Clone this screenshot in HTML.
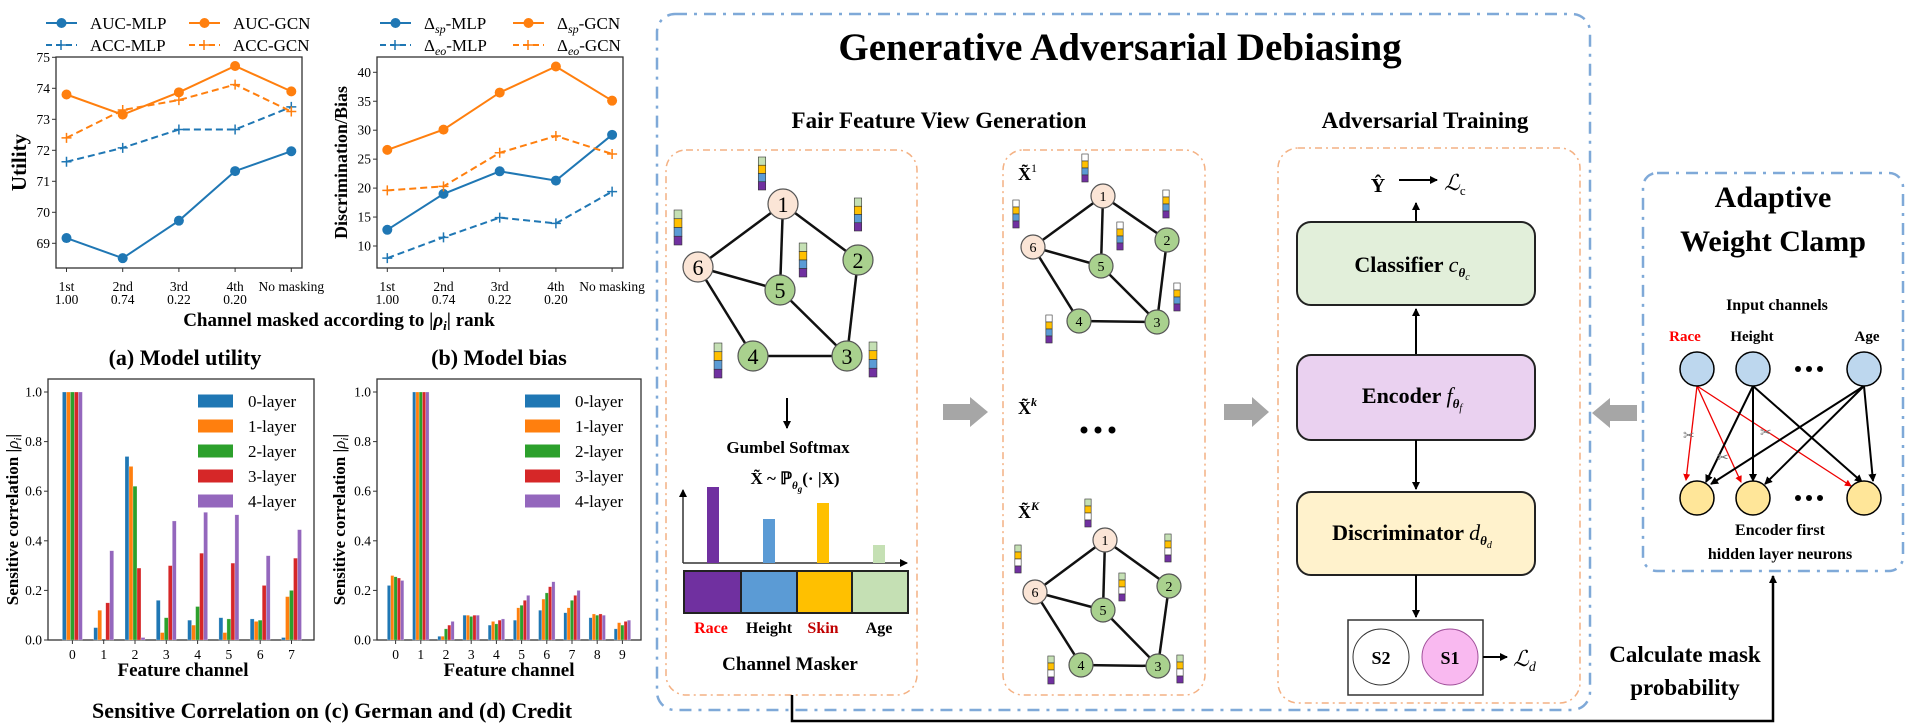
<!DOCTYPE html>
<html><head><meta charset="utf-8">
<style>
html,body{margin:0;padding:0;background:#fff;}
svg{display:block;}
svg text{font-family:"Liberation Serif","DejaVu Serif",serif;}
.b{font-weight:bold;}
</style></head>
<body>
<svg id="root" width="1908" height="727" viewBox="0 0 1908 727" xmlns="http://www.w3.org/2000/svg" font-family="Liberation Serif, serif">
<defs>
<marker id="ah" markerWidth="8" markerHeight="8" refX="7" refY="4" orient="auto" markerUnits="userSpaceOnUse"><path d="M0,0 L8,4 L0,8 z" fill="#000"/></marker>
<marker id="ahr" markerWidth="7" markerHeight="7" refX="6" refY="3.5" orient="auto" markerUnits="userSpaceOnUse"><path d="M0,0 L7,3.5 L0,7 z" fill="#e00"/></marker>
</defs>

<g id="chartA"></g>
<g id="chartB"></g>
<g id="chartC"></g>
<g id="chartD"></g>

<text x="339" y="326" text-anchor="middle" class="b" font-size="19">Channel masked according to |<tspan font-style="italic">ρ<tspan font-size="13" dy="4">i</tspan></tspan><tspan dy="-4">| rank</tspan></text>
<text x="185" y="365" text-anchor="middle" class="b" font-size="22">(a) Model utility</text>
<text x="499" y="365" text-anchor="middle" class="b" font-size="22">(b) Model bias</text>
<text x="332" y="718" text-anchor="middle" class="b" font-size="22">Sensitive Correlation on (c) German and (d) Credit</text>

<g>
<rect x="657" y="14" width="933" height="696" rx="18" fill="none" stroke="#7fa9d8" stroke-width="2.5" stroke-dasharray="12 7 3 7"/>
<text x="1120" y="60" text-anchor="middle" class="b" font-size="39">Generative Adversarial Debiasing</text>
<text x="939" y="128" text-anchor="middle" class="b" font-size="23">Fair Feature View Generation</text>
<text x="1425" y="128" text-anchor="middle" class="b" font-size="23">Adversarial Training</text>
<rect x="666" y="150" width="251" height="545" rx="20" fill="none" stroke="#f4b183" stroke-width="1.5" stroke-dasharray="7 4 2 4"/>
<rect x="1003" y="150" width="202" height="545" rx="20" fill="none" stroke="#f4b183" stroke-width="1.5" stroke-dasharray="7 4 2 4"/>
<rect x="1278" y="148" width="302" height="555" rx="20" fill="none" stroke="#f4b183" stroke-width="1.5" stroke-dasharray="7 4 2 4"/>
<g id="graphs"></g>

<line x1="787" y1="398" x2="787" y2="428" stroke="#000" stroke-width="2" marker-end="url(#ah)"/>
<text x="788" y="453" text-anchor="middle" class="b" font-size="17">Gumbel Softmax</text>
<text x="795" y="484" text-anchor="middle" class="b" font-size="17">X̃ ~ ℙ<tspan font-size="11" dy="5" font-style="italic">θ</tspan><tspan font-size="9" dy="3" font-style="italic">g</tspan><tspan dy="-8">(· |X)</tspan></text>
<line x1="683" y1="563" x2="683" y2="490" stroke="#333" stroke-width="1.5" marker-end="url(#ah)"/>
<line x1="683" y1="563" x2="907" y2="563" stroke="#333" stroke-width="1.5" marker-end="url(#ah)"/>
<rect x="707" y="487" width="12" height="76" fill="#7030a0"/>
<rect x="763" y="519" width="12" height="44" fill="#5b9bd5"/>
<rect x="817" y="503" width="12" height="60" fill="#ffc000"/>
<rect x="873" y="545" width="12" height="18" fill="#c5e0b4"/>
<g stroke="#222" stroke-width="2">
<rect x="684" y="571" width="57" height="42" fill="#7030a0"/>
<rect x="741" y="571" width="56" height="42" fill="#5b9bd5"/>
<rect x="797" y="571" width="55" height="42" fill="#ffc000"/>
<rect x="852" y="571" width="56" height="42" fill="#c5e0b4"/>
</g>
<text x="711" y="633" text-anchor="middle" class="b" font-size="16" fill="#ff0000">Race</text>
<text x="769" y="633" text-anchor="middle" class="b" font-size="16">Height</text>
<text x="823" y="633" text-anchor="middle" class="b" font-size="16" fill="#c00000">Skin</text>
<text x="879" y="633" text-anchor="middle" class="b" font-size="16">Age</text>
<text x="790" y="670" text-anchor="middle" class="b" font-size="19">Channel Masker</text>

<path d="M943,404 L970,404 L970,397 L988,412 L970,427 L970,420 L943,420 z" fill="#a6a6a6"/>
<path d="M1224,404 L1252,404 L1252,397 L1269,412 L1252,427 L1252,420 L1224,420 z" fill="#a6a6a6"/>
<path d="M1637,405 L1610,405 L1610,398 L1592,413 L1610,428 L1610,421 L1637,421 z" fill="#a6a6a6"/>

<text x="1018" y="180" class="b" font-size="18">X̃<tspan font-size="12" dy="-8" font-weight="normal">1</tspan></text>
<text x="1018" y="414" class="b" font-size="18">X̃<tspan font-size="12" dy="-8" font-style="italic">k</tspan></text>
<text x="1018" y="518" class="b" font-size="18">X̃<tspan font-size="12" dy="-8" font-style="italic">K</tspan></text>
<g fill="#000"><circle cx="1084" cy="430" r="3.5"/><circle cx="1098" cy="430" r="3.5"/><circle cx="1112" cy="430" r="3.5"/></g>

<text x="1378" y="192" text-anchor="middle" class="b" font-size="20">Ŷ</text>
<line x1="1399" y1="180" x2="1437" y2="180" stroke="#000" stroke-width="2" marker-end="url(#ah)"/>
<text x="1444" y="190" font-size="22" font-style="italic">ℒ<tspan font-size="13" dy="5" font-style="normal">c</tspan></text>
<line x1="1416" y1="222" x2="1416" y2="203" stroke="#000" stroke-width="2" marker-end="url(#ah)"/>
<rect x="1297" y="222" width="238" height="83" rx="14" fill="#e2efda" stroke="#222" stroke-width="2"/>
<text x="1412" y="272" text-anchor="middle" class="b" font-size="22">Classifier <tspan font-style="italic" font-weight="normal">c</tspan><tspan font-size="13" dy="5" font-style="italic">θ</tspan><tspan font-size="10" dy="3" font-style="italic" font-weight="normal">c</tspan></text>
<line x1="1416" y1="355" x2="1416" y2="309" stroke="#000" stroke-width="2" marker-end="url(#ah)"/>
<rect x="1297" y="355" width="238" height="85" rx="14" fill="#ead1f0" stroke="#222" stroke-width="2"/>
<text x="1412" y="403" text-anchor="middle" class="b" font-size="22">Encoder <tspan font-style="italic" font-weight="normal">f</tspan><tspan font-size="13" dy="5" font-style="italic">θ</tspan><tspan font-size="10" dy="3" font-style="italic" font-weight="normal">f</tspan></text>
<line x1="1416" y1="440" x2="1416" y2="489" stroke="#000" stroke-width="2" marker-end="url(#ah)"/>
<rect x="1297" y="492" width="238" height="83" rx="14" fill="#fff2cc" stroke="#222" stroke-width="2"/>
<text x="1412" y="540" text-anchor="middle" class="b" font-size="22">Discriminator <tspan font-style="italic" font-weight="normal">d</tspan><tspan font-size="13" dy="5" font-style="italic">θ</tspan><tspan font-size="10" dy="3" font-style="italic" font-weight="normal">d</tspan></text>
<line x1="1416" y1="575" x2="1416" y2="617" stroke="#000" stroke-width="2" marker-end="url(#ah)"/>
<rect x="1348" y="620" width="135" height="75" fill="#fff" stroke="#333" stroke-width="1.5"/>
<circle cx="1381" cy="657" r="28" fill="#fff" stroke="#333" stroke-width="1"/>
<text x="1381" y="664" text-anchor="middle" class="b" font-size="18">S2</text>
<circle cx="1450" cy="657" r="28" fill="#f9b9f0" stroke="#a0509a" stroke-width="1"/>
<text x="1450" y="664" text-anchor="middle" class="b" font-size="18">S1</text>
<line x1="1483" y1="657" x2="1507" y2="657" stroke="#000" stroke-width="2" marker-end="url(#ah)"/>
<text x="1513" y="666" font-size="22" font-style="italic">ℒ<tspan font-size="14" dy="5">d</tspan></text>
</g>

<g>
<rect x="1643" y="173" width="260" height="398" rx="14" fill="none" stroke="#7fa9d8" stroke-width="2.5" stroke-dasharray="12 7 3 7"/>
<text x="1773" y="207" text-anchor="middle" class="b" font-size="30">Adaptive</text>
<text x="1773" y="251" text-anchor="middle" class="b" font-size="30">Weight Clamp</text>
<text x="1777" y="310" text-anchor="middle" class="b" font-size="16">Input channels</text>
<text x="1685" y="341" text-anchor="middle" class="b" font-size="15" fill="#ff0000">Race</text>
<text x="1752" y="341" text-anchor="middle" class="b" font-size="15">Height</text>
<text x="1867" y="341" text-anchor="middle" class="b" font-size="15">Age</text>
<g stroke="#e00" stroke-width="1.3">
<line x1="1697" y1="386" x2="1686" y2="480" marker-end="url(#ahr)"/>
<line x1="1697" y1="386" x2="1741" y2="482" marker-end="url(#ahr)"/>
<line x1="1697" y1="386" x2="1851" y2="486" marker-end="url(#ahr)"/>
</g>
<g stroke="#000" stroke-width="2">
<line x1="1753" y1="386" x2="1706" y2="482" marker-end="url(#ah)"/>
<line x1="1753" y1="386" x2="1753" y2="481" marker-end="url(#ah)"/>
<line x1="1753" y1="386" x2="1862" y2="482" marker-end="url(#ah)"/>
<line x1="1864" y1="386" x2="1711" y2="484" marker-end="url(#ah)"/>
<line x1="1864" y1="386" x2="1765" y2="484" marker-end="url(#ah)"/>
<line x1="1864" y1="386" x2="1873" y2="481" marker-end="url(#ah)"/>
</g>
<g font-size="14" fill="#777">
<text x="1683" y="440">✂</text><text x="1717" y="462">✂</text><text x="1760" y="437">✂</text>
</g>
<g fill="#bdd7ee" stroke="#000" stroke-width="1.5">
<circle cx="1697" cy="369" r="17"/><circle cx="1753" cy="369" r="17"/><circle cx="1864" cy="369" r="17"/>
</g>
<g fill="#ffe699" stroke="#000" stroke-width="1.5">
<circle cx="1697" cy="498" r="17"/><circle cx="1753" cy="498" r="17"/><circle cx="1864" cy="498" r="17"/>
</g>
<g fill="#000">
<circle cx="1798" cy="369" r="3"/><circle cx="1809" cy="369" r="3"/><circle cx="1820" cy="369" r="3"/>
<circle cx="1798" cy="498" r="3"/><circle cx="1809" cy="498" r="3"/><circle cx="1820" cy="498" r="3"/>
</g>
<text x="1780" y="535" text-anchor="middle" class="b" font-size="16">Encoder first</text>
<text x="1780" y="559" text-anchor="middle" class="b" font-size="16">hidden layer neurons</text>
</g>
<path d="M792,695 L792,721 L1773,721 L1773,576" fill="none" stroke="#000" stroke-width="2.5" marker-end="url(#ah)"/>
<text x="1685" y="662" text-anchor="middle" class="b" font-size="23">Calculate mask</text>
<text x="1685" y="695" text-anchor="middle" class="b" font-size="23">probability</text>
</svg>

<script>
const NS = "http://www.w3.org/2000/svg";
const rankLabels1 = ["1st","2nd","3rd","4th","No masking"];
const rankLabels2 = ["1.00","0.74","0.22","0.20",""];
const aucMLP = [69.17, 68.52, 69.73, 71.33, 71.97];
const aucGCN = [73.80, 73.15, 73.87, 74.72, 73.90];
const accMLP = [71.63, 72.08, 72.67, 72.67, 73.40];
const accGCN = [72.40, 73.30, 73.62, 74.12, 73.25];
const utilTicks = [69, 70, 71, 72, 73, 74, 75];
const spMLP = [12.8, 19.0, 22.9, 21.3, 29.2];
const spGCN = [26.6, 30.1, 36.5, 41.0, 35.1];
const eoMLP = [7.9, 11.5, 14.9, 13.9, 19.4];
const eoGCN = [19.6, 20.3, 26.1, 29.0, 25.9];
const biasTicks = [10, 15, 20, 25, 30, 35, 40];
const layerNames = ["0-layer","1-layer","2-layer","3-layer","4-layer"];
const germanChannels = ["0","1","2","3","4","5","6","7"];
const german0 = [1, 0.05, 0.74, 0.16, 0.08, 0.09, 0.085, 0.01];
const german1 = [1, 0.12, 0.70, 0.03, 0.06, 0.03, 0.075, 0.175];
const german2 = [1, 0.00, 0.62, 0.09, 0.135, 0.085, 0.08, 0.20];
const german3 = [1, 0.15, 0.29, 0.30, 0.35, 0.31, 0.22, 0.33];
const german4 = [1, 0.36, 0.01, 0.48, 0.515, 0.505, 0.34, 0.445];
const creditChannels = ["0","1","2","3","4","5","6","7","8","9"];
const credit0 = [0.22, 1, 0.015, 0.10, 0.06, 0.08, 0.12, 0.11, 0.09, 0.045];
const credit1 = [0.26, 1, 0.015, 0.10, 0.075, 0.13, 0.165, 0.13, 0.105, 0.07];
const credit2 = [0.255, 1, 0.045, 0.095, 0.065, 0.14, 0.19, 0.16, 0.10, 0.06];
const credit3 = [0.25, 1, 0.06, 0.10, 0.08, 0.16, 0.215, 0.18, 0.105, 0.075];
const credit4 = [0.24, 1, 0.075, 0.10, 0.085, 0.18, 0.235, 0.20, 0.10, 0.08];
const corrTicks = [0, 0.2, 0.4, 0.6, 0.8, 1.0];

const BLUE="#1f77b4", ORANGE="#ff7f0e";
const layerColors = ["#1f77b4","#ff7f0e","#2ca02c","#d62728","#9467bd"];

function mk(parent, tag, attrs, txt) {
  const e = document.createElementNS(NS, tag);
  for (const k in attrs) e.setAttribute(k, attrs[k]);
  if (txt !== undefined) e.textContent = txt;
  parent.appendChild(e);
  return e;
}
function frame(g, x0, y0, x1, y1) {
  const r = mk(g, "rect", {x:x0, y:y0, width:x1-x0, height:y1-y0, fill:"none", stroke:"#333", "stroke-width":1.3});
  
  
}
function yTicks(g, ticks, yf, x0, fmt) {
  ticks.forEach(t => {
    const y = yf(t);
    mk(g, "line", {x1:x0-4, y1:y, x2:x0, y2:y, stroke:"#333", "stroke-width":1});
    const tx = mk(g, "text", {x:x0-6, y:y+4.5, "text-anchor":"end", "font-size":13.5}, fmt(t));
    
    
  });
}

function lineChart(g, cfg) {
  frame(g, cfg.x0, cfg.y0, cfg.x1, cfg.y1);
  yTicks(g, cfg.ticks, cfg.yf, cfg.x0, t => String(t));
  rankLabels1.forEach((l, i) => {
    const x = cfg.xf(i);
    mk(g, "line", {x1:x, y1:cfg.y1, x2:x, y2:cfg.y1+4, stroke:"#333"});
    const t1 = mk(g, "text", {x:x, y:cfg.y1+23, "text-anchor":"middle", "font-size":13.5}, l);
    
    
    const t2 = mk(g, "text", {x:x, y:cfg.y1+36, "text-anchor":"middle", "font-size":13.5}, rankLabels2[i]);
    
    
  });
  cfg.series.forEach(s => {
    const pts = s.data.map((v, i) => cfg.xf(i) + "," + cfg.yf(v)).join(" ");
    const pl = mk(g, "polyline", {points:pts, fill:"none", stroke:s.color, "stroke-width":2, "stroke-dasharray":s.dash ? "7 4" : "none"});
    
    
    s.data.forEach((v, i) => {
      const x = cfg.xf(i), y = cfg.yf(v);
      if (s.dash) {
        const p = mk(g, "path", {d:`M${x-5},${y} L${x+5},${y} M${x},${y-5} L${x},${y+5}`, stroke:s.color, "stroke-width":1.5});
        
        
      } else {
        const c = mk(g, "circle", {cx:x, cy:y, r:5, fill:s.color});
        
        
      }
    });
  });
  cfg.series.forEach((s, k) => {
    const col = k % 2, row = Math.floor(k / 2);
    const lx = cfg.legX[col], ly = 23 + row * 22;
    const lg = mk(g, "g", {});
    
    
    mk(lg, "line", {x1:lx, y1:ly, x2:lx+31, y2:ly, stroke:s.color, "stroke-width":2, "stroke-dasharray":s.dash ? "6 4" : "none"});
    if (s.dash) mk(lg, "path", {d:`M${lx+10},${ly} L${lx+20},${ly} M${lx+15},${ly-5} L${lx+15},${ly+5}`, stroke:s.color, "stroke-width":1.5});
    else mk(lg, "circle", {cx:lx+15.5, cy:ly, r:5, fill:s.color});
    const t = mk(lg, "text", {x:lx+44, y:ly+6, "font-size":17});
    t.innerHTML = s.label;
  });
  const yl = mk(g, "text", {x:0, y:0, transform:`translate(${cfg.ylx},${(cfg.y0+cfg.y1)/2}) rotate(-90)`, "text-anchor":"middle", "font-size":cfg.ylfs, "font-weight":"bold"}, cfg.ylabel);
  
  
}

lineChart(document.getElementById("chartA"), {x0:56, y0:57, x1:302, y1:268,
  xf:i => 66.5 + 56.2*i, yf:v => 57.3 + (75 - v)*31,
  ticks:utilTicks, ylabel:"Utility", ylx:26, ylfs:21, legX:[46, 189],
  series:[
    {name:"auc-mlp", data:aucMLP, color:BLUE, dash:false, label:"AUC-MLP"},
    {name:"auc-gcn", data:aucGCN, color:ORANGE, dash:false, label:"AUC-GCN"},
    {name:"acc-mlp", data:accMLP, color:BLUE, dash:true, label:"ACC-MLP"},
    {name:"acc-gcn", data:accGCN, color:ORANGE, dash:true, label:"ACC-GCN"}]});
lineChart(document.getElementById("chartB"), {x0:377, y0:57, x1:623, y1:268,
  xf:i => 387.3 + 56.2*i, yf:v => 72.3 + (40 - v)*5.79,
  ticks:biasTicks, ylabel:"Discrimination/Bias", ylx:347, ylfs:18, legX:[380, 513],
  series:[
    {name:"sp-mlp", data:spMLP, color:BLUE, dash:false, label:'Δ<tspan font-style="italic" font-size="12" dy="4">sp</tspan><tspan dy="-4">-MLP</tspan>'},
    {name:"sp-gcn", data:spGCN, color:ORANGE, dash:false, label:'Δ<tspan font-style="italic" font-size="12" dy="4">sp</tspan><tspan dy="-4">-GCN</tspan>'},
    {name:"eo-mlp", data:eoMLP, color:BLUE, dash:true, label:'Δ<tspan font-style="italic" font-size="12" dy="4">eo</tspan><tspan dy="-4">-MLP</tspan>'},
    {name:"eo-gcn", data:eoGCN, color:ORANGE, dash:true, label:'Δ<tspan font-style="italic" font-size="12" dy="4">eo</tspan><tspan dy="-4">-GCN</tspan>'}]});

function barChart(g, cfg) {
  frame(g, cfg.x0, cfg.y0, cfg.x1, cfg.y1);
  yTicks(g, corrTicks, cfg.yf, cfg.x0, t => t.toFixed(1));
  cfg.cats.forEach((c, i) => {
    const x = cfg.xf(i);
    mk(g, "line", {x1:x, y1:cfg.y1, x2:x, y2:cfg.y1+4, stroke:"#333"});
    const t = mk(g, "text", {x:x, y:cfg.y1+19, "text-anchor":"middle", "font-size":13.5}, c);
    
    
  });
  cfg.series.forEach((arr, j) => {
    arr.forEach((v, i) => {
      const x = cfg.xf(i) + (j - 2.5) * cfg.bw;
      const y = cfg.yf(v);
      const r = mk(g, "rect", {x:x, y:y, width:cfg.bw, height:Math.max(0, cfg.y1 - y), fill:layerColors[j], stroke:"rgba(255,255,255,0.5)", "stroke-width":0.5});
      
      
    });
  });
  layerNames.forEach((n, j) => {
    const ly = 401 + j * 25;
    const lg = mk(g, "g", {});
    
    
    mk(lg, "rect", {x:cfg.legX, y:ly-6.5, width:35, height:13, fill:layerColors[j]});
    mk(lg, "text", {x:cfg.legX+50, y:ly+6, "font-size":17}, n);
  });
  const yl = mk(g, "text", {x:0, y:0, transform:`translate(${cfg.ylx},${(cfg.y0+cfg.y1)/2+10}) rotate(-90)`, "text-anchor":"middle", "font-size":17, "font-weight":"bold"});
  yl.innerHTML = 'Sensitive correlation |<tspan font-style="italic" font-weight="normal">ρ<tspan font-size="11" dy="3">i</tspan></tspan><tspan dy="-3">|</tspan>';
  
  
  const xl = mk(g, "text", {x:cfg.xlx, y:676, "text-anchor":"middle", "font-size":19, "font-weight":"bold"}, "Feature channel");
  
  
}
barChart(document.getElementById("chartC"), {x0:48, y0:379, x1:314, y1:640,
  xf:i => 72.4 + 31.3*i, yf:v => 640 - 248*v, bw:4, cats:germanChannels,
  series:[german0, german1, german2, german3, german4], legX:198, ylx:18, xlx:183});
barChart(document.getElementById("chartD"), {x0:377, y0:379, x1:641, y1:640,
  xf:i => 395.6 + 25.2*i, yf:v => 640 - 248*v, bw:3.3, cats:creditChannels,
  series:[credit0, credit1, credit2, credit3, credit4], legX:525, ylx:345, xlx:509});

const G = document.getElementById("graphs");
const edges = [[1,6],[1,5],[1,2],[6,5],[6,4],[5,3],[2,3],[4,3]];
function graph(nodes, r, fs, stacks, masked, name) {
  const g = mk(G, "g", {});
  
  
  edges.forEach(([a,b]) => mk(g, "line", {x1:nodes[a][0], y1:nodes[a][1], x2:nodes[b][0], y2:nodes[b][1], stroke:"#111", "stroke-width":2.5}));
  for (const k in nodes) {
    const pink = (k === "1" || k === "6");
    mk(g, "circle", {cx:nodes[k][0], cy:nodes[k][1], r:r, fill:pink ? "#fbe5d6" : "#a9d18e", stroke:"#555", "stroke-width":1.2});
    mk(g, "text", {x:nodes[k][0], y:nodes[k][1] + fs*0.36, "text-anchor":"middle", "font-size":fs}, k);
  }
  const cols = ["#c5e0b4","#ffc000","#5b9bd5","#7030a0"];
  stacks.forEach(([x, y, h]) => {
    const w = h/4 * 0.9;
    cols.forEach((c, i) => {
      const fill = (masked && masked.includes(i)) ? "#fff" : c;
      mk(g, "rect", {x:x - w/2, y:y + i*h/4, width:w, height:h/4, fill:fill, stroke:"#333", "stroke-width":0.6});
    });
  });
}
graph({1:[783,204],2:[858,260],6:[698,267],5:[780,290],4:[753,356],3:[847,356]}, 15, 22,
  [[762,157,33],[678,210,35],[858,198,33],[803,243,34],[718,343,35],[873,342,35]], null, "input-graph");
graph({1:[1103,196],2:[1167,240],6:[1033,247],5:[1101,266],4:[1079,321],3:[1157,322]}, 12, 14,
  [[1085,154,28],[1016,200,28],[1166,190,28],[1120,222,28],[1049,315,28],[1177,283,28]], [0], "view-graph-1");
graph({1:[1105,540],2:[1169,586],6:[1035,592],5:[1103,610],4:[1081,665],3:[1158,666]}, 12, 14,
  [[1088,499,28],[1018,545,28],[1168,534,28],[1122,573,28],[1051,656,28],[1180,655,28]], [2], "view-graph-K");
</script>
</body></html>
